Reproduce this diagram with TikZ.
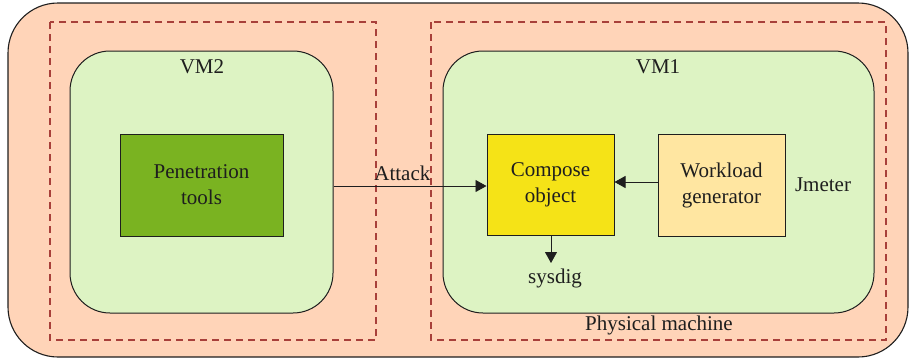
\documentclass[tikz,border=0pt]{standalone}
\usepackage{fontspec}
\setmainfont{Liberation Serif}
\usetikzlibrary{arrows.meta}
\definecolor{hostfill}{HTML}{FFD4B8}
\definecolor{vmfill}{HTML}{DDF3C3}
\definecolor{pentfill}{HTML}{7AB321}
\definecolor{compfill}{HTML}{F5E317}
\definecolor{loadfill}{HTML}{FFE6A1}
\definecolor{dashred}{HTML}{A8403A}
\definecolor{ink}{HTML}{1E1E1E}
\begin{document}
\begin{tikzpicture}[x=1pt,y=-1pt,
  font=\fontsize{21}{26}\selectfont, text=ink,
  vmbox/.style={draw=ink, line width=1pt, fill=vmfill, rounded corners=40pt, inner sep=0pt},
  procbox/.style={draw=ink, line width=1pt, inner sep=0pt, align=center},
  zone/.style={draw=dashred, line width=1.1pt, dash pattern=on 7pt off 5pt},
  flow/.style={draw=ink, line width=0.9pt, -{Triangle[length=11pt,width=12pt]}}]
\useasboundingbox (0,0) rectangle (910,362);
% physical host
\draw[draw=ink, line width=1.1pt, fill=hostfill, rounded corners=50pt] (8,3) rectangle (908,357);
% VM partitions
\draw[zone] (50,22) rectangle (376,340);
\draw[zone] (431,22) rectangle (886,340);
% virtual machines
\node[vmbox, minimum width=263pt, minimum height=262pt] (vm2) at (201.5,182) {};
\node[vmbox, minimum width=431pt, minimum height=262pt] (vm1) at (658.5,182) {};
\node (vm2lbl) at (202,67) {VM2};
\node (vm1lbl) at (658,67) {VM1};
% processes
\node[procbox, fill=pentfill, minimum width=163pt, minimum height=102pt] (pen) at (201.5,185) {Penetration\\tools};
\node[procbox, fill=compfill, minimum width=127pt, minimum height=101pt] (comp) at (550.5,184.5) {Compose\\object};
\node[procbox, fill=loadfill, minimum width=127pt, minimum height=102pt] (load) at (721.5,185) {Workload\\generator};
\node (jm) at (823,185) {Jmeter};
\node (sys) at (555,278) {sysdig};
\node (pm) at (659,325) {Physical machine};
% connectors
\coordinate (atk) at (vm2.east |- 0,186);
\draw[flow] (atk) -- (comp.west |- atk)
  node[pos=0.45, anchor=base, yshift=6pt] (atklbl) {Attack};
\draw[flow] (load.west |- 0,182) -- (comp.east |- 0,182);
\coordinate (sysend) at (551,263);
\draw[flow] (comp.south -| sysend) -- (sysend);
\end{tikzpicture}
\end{document}
